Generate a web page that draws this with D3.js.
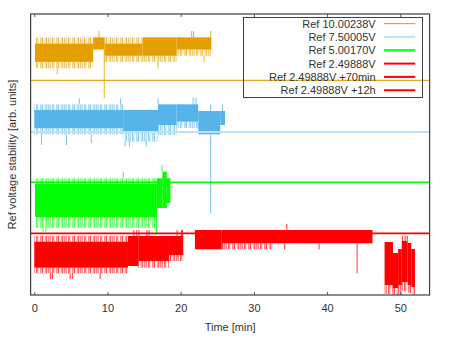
<!DOCTYPE html>
<html><head><meta charset="utf-8">
<script src="https://cdn.jsdelivr.net/npm/d3@7"></script>
<style>body{margin:0;background:#fff}svg{display:block}</style>
</head><body><svg id="c" width="450" height="338"></svg>
<script>
// ---------------- data ----------------
const xTicks = [0, 10, 20, 30, 40, 50];
const seriesLabels = ["Ref 10.00238V", "Ref 7.50005V", "Ref 5.00170V", "Ref 2.49888V", "Ref 2.49888V +70min", "Ref 2.49888V +12h"];
// reference (nominal) level of each trace, arb. units
const refLevels = [21.47, 16.3, 11.27, 6.17];

// dense bands: [t0, t1, top, bottom]   fringe: sparse excursions  spikes: [t, from, to]
const s1Solid = [[0.1, 8.05, 25.15, 23.31], [8.05, 9.6, 25.77, 24.54], [9.6, 14.8, 25.15, 23.92], [14.8, 19.45, 25.77, 23.92], [19.45, 24.2, 25.77, 24.54]];
const s1Fringe = [[0.1, 8.05, 25.77, 25.15], [0.1, 8.05, 23.31, 22.67], [9.6, 14.8, 25.77, 25.15], [9.6, 19.45, 23.92, 23.31], [19.45, 24.2, 24.54, 23.92]];
const s1Spikes = [[3.14, 22.67, 22.07], [9.56, 24.54, 19.67], [8.84, 25.77, 26.4], [21.5, 25.77, 26.4], [21.75, 25.77, 26.4], [24.1, 25.77, 26.4], [16.9, 23.31, 22.67], [23.2, 23.92, 23.31]];

const s2Solid = [[0.0, 12.15, 18.5, 16.67], [12.15, 16.9, 18.5, 16.2], [16.9, 19.45, 19.07, 17.0], [19.45, 22.4, 19.07, 17.33], [22.4, 25.4, 18.4, 16.07], [25.4, 26.05, 18.4, 17.0]];
const s2Fringe = [[0.0, 12.15, 19.07, 18.5], [0.0, 12.15, 16.67, 16.07], [12.15, 16.9, 16.2, 15.33], [16.9, 19.45, 17.0, 16.0], [19.45, 22.4, 17.33, 16.7]];
const s2Spikes = [[1.0, 16.07, 15.0], [4.4, 16.07, 15.0], [7.8, 16.07, 15.2], [6.15, 19.07, 19.67], [11.8, 19.07, 19.67], [12.4, 15.33, 14.83], [13.0, 15.33, 14.83], [15.3, 15.33, 14.83], [16.9, 19.07, 19.67], [21.7, 19.07, 19.73], [22.1, 19.07, 19.73], [24.1, 16.07, 8.17], [24.1, 18.4, 19.07], [25.7, 18.4, 19.07]];

const s3Solid = [[0.1, 16.7, 11.1, 7.8], [16.7, 17.5, 11.67, 8.7], [17.5, 18.1, 12.33, 8.7], [18.1, 18.6, 11.67, 9.2]];
const s3Fringe = [[0.1, 16.7, 11.67, 11.1], [0.1, 16.7, 7.8, 6.7]];
const s3Spikes = [[1.2, 6.7, 6.3], [1.6, 6.7, 6.3], [12.15, 11.67, 12.33], [16.7, 8.7, 6.0], [17.45, 12.33, 13.0]];

const s4Solid = [[0.0, 12.8, 5.33, 2.73], [12.8, 14.2, 5.9, 2.9], [14.2, 18.4, 5.9, 3.4], [18.4, 20.35, 5.9, 4.0]];
const s4Fringe = [[0.0, 12.8, 5.9, 5.33], [0.0, 12.8, 2.73, 2.17], [14.2, 18.4, 3.4, 2.73], [18.4, 20.35, 4.0, 3.4]];
const s4Spikes = [[2.2, 2.17, 1.6], [2.5, 2.17, 1.6], [4.9, 2.17, 1.6], [5.25, 2.17, 1.6], [9.0, 2.17, 1.6], [13.6, 5.9, 6.5], [14.0, 5.9, 6.5], [14.3, 5.9, 6.5], [15.4, 5.9, 6.5], [15.7, 5.9, 6.5], [19.5, 5.9, 6.5], [20.1, 5.9, 6.5], [20.25, 5.9, 6.5]];

const s5Solid = [[21.95, 25.6, 6.5, 4.57], [25.6, 46.2, 6.5, 5.17]];
const s5Fringe = [[25.6, 32.5, 5.17, 4.57]];
const s5Spikes = [[34.5, 6.5, 7.1], [34.2, 5.17, 4.57], [38.9, 5.17, 4.57], [44.1, 5.17, 2.17]];

const s6Solid = [[47.85, 49.0, 5.3, 1.0], [49.0, 49.7, 4.2, 0.7], [49.7, 50.2, 4.6, 1.0], [50.2, 51.0, 5.4, 1.3], [51.0, 51.5, 5.2, 1.0], [51.5, 52.0, 4.6, 0.8]];
const s6Fringe = [[47.85, 49.0, 1.0, 0.1], [49.0, 49.7, 0.7, 0.0], [49.7, 50.2, 1.0, 0.0], [50.2, 51.0, 1.3, 0.4], [51.0, 51.5, 1.0, 0.2], [51.5, 52.0, 0.8, 0.0]];
const s6Spikes = [[50.3, 5.4, 5.9], [50.65, 5.4, 5.9], [50.95, 5.4, 5.9]];

// ---------------- styles ----------------
const colors = ["#e69f00", "#56b4e9", "#00ff00", "#ff0000", "#ff0000", "#ff0000"];
const refColors = ["#e8a820", "#bfe0f5", "#00ff00", "#ff0000"];
const refWidths = [1.2, 2, 1.5, 1.8];
const legendColors = ["#e8a820", "#9ccfee", "#00ff00", "#ff0000", "#ff0000", "#ff0000"];
const legendWidths = [1.2, 1.2, 2, 2, 2, 2];
const FONT = "'Liberation Sans', Arial, sans-serif";
const TXT = "#333";
const stripeX = [0, 1.6, 4.2, 5.3, 8.4, 10.1, 12.7, 14.2]; // texture tile for sparse fringes
const TILE = 16;

const series = [
  {solid: s1Solid, fringe: s1Fringe, spikes: s1Spikes},
  {solid: s2Solid, fringe: s2Fringe, spikes: s2Spikes},
  {solid: s3Solid, fringe: s3Fringe, spikes: s3Spikes},
  {solid: s4Solid, fringe: s4Fringe, spikes: s4Spikes},
  {solid: s5Solid, fringe: s5Fringe, spikes: s5Spikes},
  {solid: s6Solid, fringe: s6Fringe, spikes: s6Spikes}
];

const m = {l: 30.6, r: 429.6, t: 14, b: 295};
const x = d3.scaleLinear().domain([-0.5, 54]).range([m.l, m.r]);
const y = d3.scaleLinear().domain([0, 28.1]).range([m.b, m.t]);

const svg = d3.select("#c");
svg.append("rect").attr("width", 450).attr("height", 338).attr("fill", "#fff");
const defs = svg.append("defs");
defs.append("clipPath").attr("id", "clip").append("rect")
  .attr("x", m.l).attr("y", m.t).attr("width", m.r - m.l).attr("height", m.b - m.t);
colors.forEach((c, i) => {
  const p = defs.append("pattern").attr("id", "fr" + i).attr("patternUnits", "userSpaceOnUse")
    .attr("width", TILE).attr("height", 10);
  stripeX.forEach((sx, k) => {
    p.append("rect").attr("x", sx).attr("y", 0).attr("width", 1).attr("height", 10)
      .attr("fill", c).attr("opacity", k % 3 === 0 ? 0.5 : 0.8);
  });
});

const plot = svg.append("g").attr("clip-path", "url(#clip)");

series.forEach((s, i) => {
  const g = plot.append("g");
  g.selectAll("rect.f").data(s.fringe).join("rect").attr("class", "f")
    .attr("x", d => x(d[0])).attr("width", d => x(d[1]) - x(d[0]))
    .attr("y", d => y(d[2])).attr("height", d => y(d[3]) - y(d[2]))
    .attr("fill", `url(#fr${i})`);
  g.selectAll("rect.s").data(s.solid).join("rect").attr("class", "s")
    .attr("x", d => x(d[0])).attr("width", d => x(d[1]) - x(d[0]))
    .attr("y", d => y(d[2])).attr("height", d => y(d[3]) - y(d[2]))
    .attr("fill", colors[i]);
  g.selectAll("line").data(s.spikes).join("line")
    .attr("x1", d => x(d[0])).attr("x2", d => x(d[0]))
    .attr("y1", d => y(d[1])).attr("y2", d => y(d[2]))
    .attr("stroke", colors[i]).attr("stroke-width", 1)
    .attr("opacity", 0.8);
});

plot.selectAll("line.ref").data(refLevels).join("line").attr("class", "ref")
  .attr("x1", x(-0.5)).attr("x2", x(54))
  .attr("y1", d => y(d)).attr("y2", d => y(d))
  .attr("stroke", (d, i) => refColors[i]).attr("stroke-width", (d, i) => refWidths[i]);

// axes
const axB = svg.append("g").attr("transform", `translate(0,${m.b})`)
  .call(d3.axisBottom(x).tickValues(xTicks).tickSizeInner(-3).tickSizeOuter(0).tickPadding(9));
const axT = svg.append("g").attr("transform", `translate(0,${m.t})`)
  .call(d3.axisTop(x).tickValues(xTicks).tickSizeInner(-3).tickSizeOuter(0).tickFormat(""));
[axB, axT].forEach(a => {
  a.select(".domain").remove();
  a.selectAll(".tick line").attr("stroke", "#555");
  a.selectAll("text").attr("fill", TXT).attr("font-family", FONT).attr("font-size", 11);
});

svg.append("rect").attr("x", m.l).attr("y", m.t).attr("width", m.r - m.l).attr("height", m.b - m.t)
  .attr("fill", "none").attr("stroke", "#404040").attr("stroke-width", 1.2);

svg.append("text").attr("x", (m.l + m.r) / 2).attr("y", 330.5).attr("text-anchor", "middle")
  .attr("font-family", FONT).attr("font-size", 11).attr("fill", TXT).text("Time [min]");
svg.append("text").attr("transform", `translate(15.5,${(m.t + m.b) / 2}) rotate(-90)`)
  .attr("text-anchor", "middle").attr("font-family", FONT).attr("font-size", 11).attr("fill", TXT)
  .text("Ref voltage stability [arb. units]");

// legend
const lg = svg.append("g");
lg.append("rect").attr("x", 243.5).attr("y", 17.5).attr("width", 179).attr("height", 80)
  .attr("fill", "none").attr("stroke", "#404040").attr("stroke-width", 1);
seriesLabels.forEach((lab, i) => {
  const cy = 23.6 + i * 13.33;
  lg.append("text").attr("x", 375.7).attr("y", cy + 4).attr("text-anchor", "end")
    .attr("font-family", FONT).attr("font-size", 11).attr("fill", TXT).text(lab);
  lg.append("line").attr("x1", 384).attr("x2", 415.3).attr("y1", cy).attr("y2", cy)
    .attr("stroke", legendColors[i]).attr("stroke-width", legendWidths[i]);
});
</script></body></html>
